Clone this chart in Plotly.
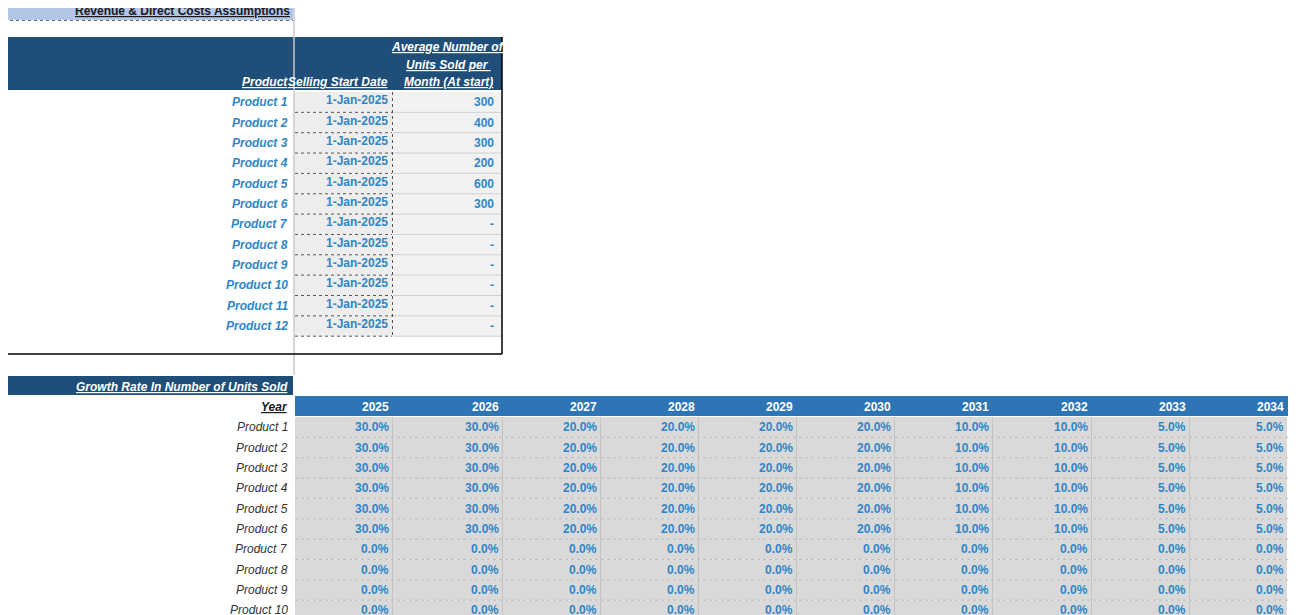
import plotly.graph_objects as go

products = [f"Product {i}" for i in range(1, 13)]
start_dates = ["1-Jan-2025"] * 12
avg_units = [300, 400, 300, 200, 600, 300, None, None, None, None, None, None]
years = [2025, 2026, 2027, 2028, 2029, 2030, 2031, 2032, 2033, 2034]
growth_active = [30.0, 30.0, 20.0, 20.0, 20.0, 20.0, 10.0, 10.0, 5.0, 5.0]
growth_inactive = [0.0] * 10
growth_products = products[:10]
growth = [growth_active] * 6 + [growth_inactive] * 4

FONT = "Liberation Sans Narrow, Liberation Sans, sans-serif"
BLUE_TXT = "#2e86c8"
shapes, ann = [], []

def rect(x0, y0, x1, y1, fill, line=None, lw=0, dash="solid"):
    shapes.append(dict(type="rect", x0=x0, y0=y0, x1=x1, y1=y1, fillcolor=fill,
                       line=dict(color=line or fill, width=lw, dash=dash), layer="below"))

def hline(x0, x1, y, color, w=1, dash="solid"):
    shapes.append(dict(type="line", x0=x0, x1=x1, y0=y, y1=y, line=dict(color=color, width=w, dash=dash)))

def vline(x, y0, y1, color, w=1, dash="solid"):
    shapes.append(dict(type="line", x0=x, x1=x, y0=y0, y1=y1, line=dict(color=color, width=w, dash=dash)))

def text(x, y, t, color, size=12, anchor="right"):
    ann.append(dict(x=x, y=y, text=t, showarrow=False, xanchor=anchor, yanchor="middle",
                    font=dict(family=FONT, size=size, color=color)))

# Title
rect(4, 0, 293, 20, "#b4c6e7")
hline(4, 293, 20.5, "#666", 1, "dot")
text(292, 11, "<b><u>Revenue & Direct Costs Assumptions</u></b>", "#1a1a1a", 12)
vline(294, 0, 375, "#c8c8c8", 1.5)
vline(4, 0, 615, "#000", 2)

# Top table header
rect(4, 37, 502, 90, "#1f4e79")
text(290, 82, "<b><i><u>Product</u></i></b>", "white")
text(390, 82, "<b><i><u>Selling Start Date</u></i></b>", "white")
text(448, 47, "<b><i><u>Average Number of </u></i></b>", "white", anchor="center")
text(448, 65, "<b><i><u>Units Sold per </u></i></b>", "white", anchor="center")
text(448, 82, "<b><i><u>Month (At start)</u></i></b>", "white", anchor="center")

row_h = 20.35
top0 = 92
for i, p in enumerate(products):
    y0 = top0 + i * row_h
    yc = y0 + row_h / 2
    rect(295, y0, 392, y0 + row_h, "#ededed")
    rect(393, y0, 502, y0 + row_h, "#f2f2f2")
    hline(295, 392, y0 + row_h, "#555", 1, "dot")
    hline(393, 502, y0 + row_h, "#d0d0d0", 1)
    text(290, yc, f"<b><i>{p}</i></b>", BLUE_TXT)
    text(390, yc - 2, f"<b>{start_dates[i]}</b>", BLUE_TXT)
    v = avg_units[i]
    text(496, yc, f"<b>{v:,}</b>" if v is not None else "<b>-</b>", BLUE_TXT,
         anchor="right")
vline(392.5, top0, top0 + 12 * row_h, "#555", 1, "dot")
vline(502, 37, 354, "#000", 1.5)
hline(4, 502, 354, "#000", 1.5)

# Growth section
rect(4, 376, 293, 395, "#1f4e79")
text(290, 387, "<b><i><u>Growth Rate In Number of Units Sold</u></i></b>", "white")
col_edges = [295, 393, 503, 601, 699, 797, 895, 993, 1092, 1190, 1288]
rect(295, 396, 1288, 416, "#2e75b6")
text(290, 407, "<b><i><u>Year</u></i></b>", "#1a1a1a")
for j, yr in enumerate(years):
    text(col_edges[j + 1] - 2, 407, f"<b>{yr}</b>", "white")
gtop = 417
for i, p in enumerate(growth_products):
    y0 = gtop + i * row_h
    yc = y0 + row_h / 2
    text(290, yc, f"<i>{p}</i>", "#333")
    for j in range(len(years)):
        rect(col_edges[j], y0, col_edges[j + 1] - 1, y0 + row_h, "#d9d9d9")
        text(col_edges[j + 1] - 2, yc, f"<b>{growth[i][j]:.1f}%</b>", BLUE_TXT)
    hline(295, 1288, y0 + row_h, "#bbbbbb", 1, "dot")
for x in col_edges[1:-1]:
    vline(x - 0.5, gtop, 615, "#c4c4c4", 1)

fig = go.Figure()
fig.update_layout(
    width=1300, height=615, margin=dict(l=0, r=0, t=0, b=0),
    paper_bgcolor="white", plot_bgcolor="white",
    xaxis=dict(range=[8, 1308], visible=False, fixedrange=True),
    yaxis=dict(range=[623, 8], visible=False, fixedrange=True),
    shapes=shapes, annotations=ann, showlegend=False,
)
fig.write_html("out.html")
